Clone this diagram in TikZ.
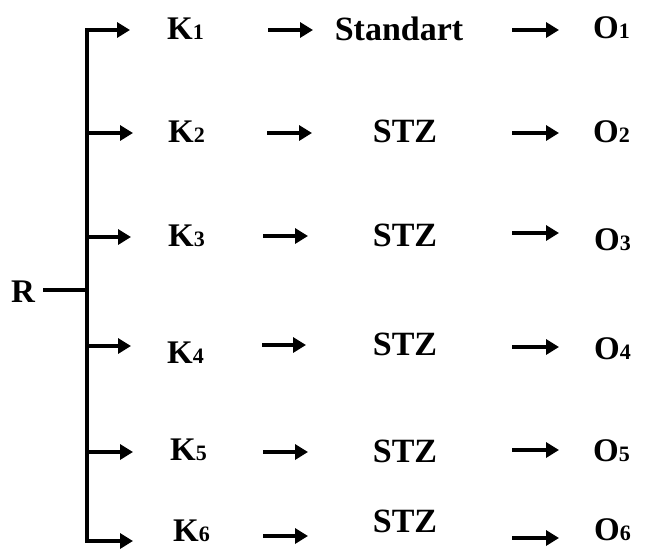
\documentclass[tikz,border=0pt]{standalone}
\usepackage{fontspec}
\setmainfont{Liberation Serif}
\usetikzlibrary{arrows.meta}
\newcommand\dgt[1]{{\fontsize{22}{22}\selectfont #1}}
\tikzset{
  lbl/.style={font=\fontsize{33}{33}\selectfont\bfseries, inner sep=0pt, anchor=west},
  mid/.style={font=\fontsize{34}{34}\selectfont\bfseries, inner sep=0pt},
  tip/.tip={Triangle[length=13pt,width=15pt]},
  arr/.style={line width=4.2pt, -tip},
  bar/.style={line width=4.8pt, line join=miter}
}
\begin{document}
\begin{tikzpicture}[x=1pt,y=-1pt]
\useasboundingbox (0,0) rectangle (655,549);
% root
\node[lbl, anchor=west] (R) at (11,292) {R};
% bar
\coordinate (b1) at (87,30);
\coordinate (b2) at (87,133);
\coordinate (b3) at (87,237);
\coordinate (bR) at (87,290);
\coordinate (b4) at (87,346);
\coordinate (b5) at (87,452);
\coordinate (b6) at (87,541);
\coordinate (t1) at (130,30);
\coordinate (t2) at (133,133);
\coordinate (t3) at (131,237);
\coordinate (t4) at (131,346);
\coordinate (t5) at (133,452);
\coordinate (t6) at (133,541);
\draw[bar, tip-tip] (t1) -- (b1) -- (b6) -- (t6);
\foreach \i in {2,3,4,5}{\draw[bar, -tip] (b\i) -- (t\i);}
\coordinate (rs) at (43,290);
\draw[line width=3.8pt] (rs) -- (bR);
% K nodes
\node[lbl] (K1) at (167,29) {K\dgt{1}};
\node[lbl] (K2) at (168,132) {K\dgt{2}};
\node[lbl] (K3) at (168,236) {K\dgt{3}};
\node[lbl] (K4) at (167,353) {K\dgt{4}};
\node[lbl] (K5) at (170,450) {K\dgt{5}};
\node[lbl] (K6) at (173,531) {K\dgt{6}};
% middle nodes
\node[mid] (M1) at (399,29) {Standart};
\node[mid] (M2) at (405,131) {STZ};
\node[mid] (M3) at (405,235) {STZ};
\node[mid] (M4) at (405,344) {STZ};
\node[mid] (M5) at (405,451) {STZ};
\node[mid] (M6) at (405,521) {STZ};
% O nodes
\node[lbl] (O1) at (593,28) {O\dgt{1}};
\node[lbl] (O2) at (593,132) {O\dgt{2}};
\node[lbl] (O3) at (594,240) {O\dgt{3}};
\node[lbl] (O4) at (594,349) {O\dgt{4}};
\node[lbl] (O5) at (593,451) {O\dgt{5}};
\node[lbl] (O6) at (594,530) {O\dgt{6}};
% middle arrows
\foreach \i/\y/\xa/\xb in {1/30/268/313, 2/133/267/312, 3/236/263/308, 4/345/262/306, 5/452/263/308, 6/536/263/308}{
  \coordinate (ka\i) at (\xa,\y);
  \coordinate (kb\i) at (\xb,\y);
  \draw[arr] (ka\i) -- (kb\i);
}
% right arrows
\foreach \i/\y in {1/30, 2/133, 3/233, 4/347, 5/450, 6/538}{
  \coordinate (ma\i) at (512,\y);
  \coordinate (mb\i) at (559,\y);
  \draw[arr] (ma\i) -- (mb\i);
}
\end{tikzpicture}
\end{document}
